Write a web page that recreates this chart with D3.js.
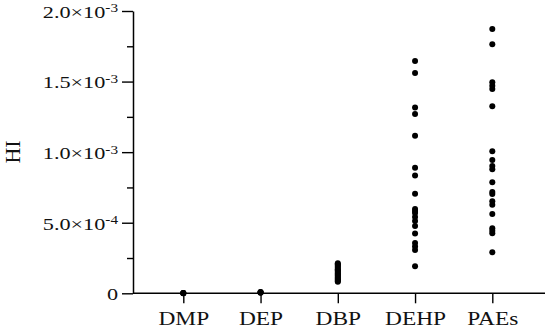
<!DOCTYPE html>
<html>
<head>
<meta charset="utf-8">
<script src="https://cdn.jsdelivr.net/npm/d3@7"></script>
<style>
  body { margin: 0; background: #fff; }
  text { font-family: "Liberation Serif", "Times New Roman", serif; fill: #111; }
</style>
</head>
<body>
<svg width="547" height="330"></svg>
<script>
// categories and HI values
var categories = ["DMP", "DEP", "DBP", "DEHP", "PAEs"];

var dmpValues = [0.0000008, 0.0000012, 0.0000015, 0.000002];
var depValues = [0.000004, 0.000006, 0.000008, 0.000010];
var dbpValues = [0.000081, 0.000088, 0.000095, 0.000102, 0.000108, 0.000116, 0.000124,
                 0.000131, 0.000138, 0.000146, 0.000155, 0.000163, 0.000171, 0.000180,
                 0.000188, 0.000197, 0.000206, 0.000213];
var dehpValues = [0.001646, 0.001561, 0.001316, 0.001270, 0.001117, 0.000890, 0.000835,
                  0.000706, 0.000597, 0.000583, 0.000569, 0.000541, 0.000513, 0.000477,
                  0.000424, 0.000356, 0.000332, 0.000307, 0.000191];
var paesValues = [0.001872, 0.001764, 0.001495, 0.001471, 0.001447, 0.001325, 0.001006,
                  0.000944, 0.000902, 0.000879, 0.000786, 0.000718, 0.000703, 0.000652,
                  0.000628, 0.000562, 0.000461, 0.000443, 0.000425, 0.000290];

var majorTicks = [0, 0.0005, 0.001, 0.0015, 0.002];
var minorTicks = [0.00025, 0.00075, 0.00125, 0.00175];
var tickMantissa = ["0", "5.0", "1.0", "1.5", "2.0"];
var tickExponent = ["", "-4", "-3", "-3", "-3"];

var seriesList = [dmpValues, depValues, dbpValues, dehpValues, paesValues];

var svg = d3.select("svg");

var x = d3.scalePoint()
    .domain(categories)
    .range([183.3, 492.3]);

var y = d3.scaleLinear()
    .domain([0, 0.002])
    .range([293.3, 11]);

// minor ticks on y
svg.append("g")
    .attr("transform", "translate(133,0)")
    .call(d3.axisLeft(y).tickValues(minorTicks).tickSize(6).tickFormat(""))
    .call(function(g) { g.select(".domain").remove(); })
    .selectAll("line").attr("stroke-width", 1.4);

// major y axis
var yAxis = svg.append("g")
    .attr("transform", "translate(133,0)")
    .call(d3.axisLeft(y).tickValues(majorTicks).tickSize(11).tickSizeOuter(0));

yAxis.select(".domain").attr("stroke-width", 1.5);
yAxis.selectAll("line").attr("stroke-width", 1.4);

yAxis.selectAll(".tick text").each(function(d, i) {
    var t = d3.select(this);
    t.text(null)
        .attr("x", 0)
        .attr("dy", "0.36em")
        .attr("transform", "translate(-15,0) scale(1.27,1)")
        .style("font-size", "17.5px");
    t.append("tspan").text(tickMantissa[i] + (tickExponent[i] ? "\u00d710" : ""));
    if (tickExponent[i]) {
        t.append("tspan")
            .attr("dy", "-0.45em")
            .style("font-size", "12px")
            .text(tickExponent[i]);
    }
});

// x axis
var xAxis = svg.append("g")
    .attr("transform", "translate(0,293.3)")
    .call(d3.axisBottom(x).tickSize(10).tickSizeOuter(0));

xAxis.select(".domain").attr("d", "M133,0H545").attr("stroke-width", 1.5);
xAxis.selectAll("line").attr("stroke-width", 1.4);
xAxis.selectAll(".tick text")
    .attr("y", 0)
    .attr("dy", 0)
    .attr("transform", "translate(0,32) scale(1.2,1)")
    .style("font-size", "19.5px");

// y axis title
svg.append("text")
    .attr("transform", "translate(20,152) rotate(-90)")
    .attr("text-anchor", "middle")
    .style("font-size", "22px")
    .text("HI");

// dots
categories.forEach(function(c, i) {
    svg.append("g")
        .selectAll("circle")
        .data(seriesList[i])
        .enter().append("circle")
        .attr("cx", x(c))
        .attr("cy", function(d) { return y(d); })
        .attr("r", 3)
        .attr("fill", "#000");
});
</script>
</body>
</html>
